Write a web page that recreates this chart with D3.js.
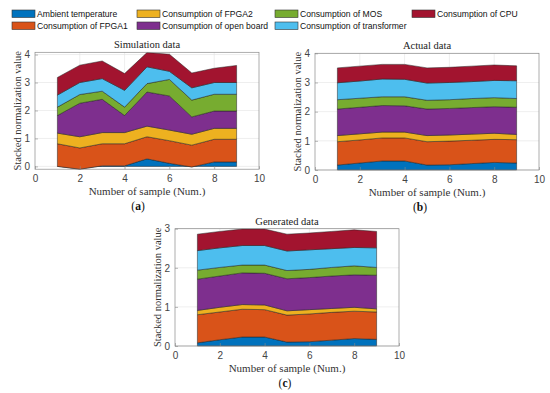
<!DOCTYPE html>
<html>
<head>
<meta charset="utf-8">
<script src="https://cdn.jsdelivr.net/npm/d3@7"></script>
<style>
  body { margin: 0; background: #fff; }
  svg { display: block; }
</style>
</head>
<body>
<svg id="chart" width="550" height="393"></svg>
<script>
// samples on the x axis
var samples = [1, 2, 3, 4, 5, 6, 7, 8, 9];

var seriesNames = [
  "Ambient temperature", "Consumption of FPGA1", "Consumption of FPGA2",
  "Consumption of open board", "Consumption of MOS", "Consumption of transformer",
  "Consumption of CPU"
];

// one row per series, same order as seriesNames
var simulationData = [
  [0.00, -0.10, 0.02, 0.02, 0.27, 0.11, -0.02, 0.16, 0.16],
  [0.81, 0.76, 0.79, 0.79, 0.79, 0.81, 0.78, 0.81, 0.81],
  [0.38, 0.40, 0.40, 0.40, 0.38, 0.38, 0.39, 0.39, 0.39],
  [0.63, 1.20, 1.19, 0.61, 1.22, 1.22, 0.62, 0.62, 0.62],
  [0.30, 0.31, 0.29, 0.30, 0.30, 0.59, 0.60, 0.60, 0.60],
  [0.43, 0.43, 0.45, 0.60, 0.60, 0.29, 0.44, 0.42, 0.42],
  [0.63, 0.62, 0.63, 0.60, 0.51, 0.61, 0.53, 0.51, 0.61]
];

var actualData = [
  [0.17, 0.24, 0.31, 0.31, 0.17, 0.18, 0.22, 0.26, 0.24],
  [0.80, 0.79, 0.79, 0.79, 0.80, 0.81, 0.80, 0.79, 0.80],
  [0.21, 0.21, 0.20, 0.20, 0.21, 0.21, 0.21, 0.21, 0.18],
  [0.91, 0.91, 0.91, 0.90, 0.91, 0.91, 0.91, 0.91, 0.93],
  [0.32, 0.31, 0.30, 0.31, 0.30, 0.30, 0.31, 0.31, 0.30],
  [0.58, 0.59, 0.61, 0.60, 0.59, 0.59, 0.58, 0.59, 0.61],
  [0.51, 0.51, 0.50, 0.51, 0.52, 0.52, 0.53, 0.53, 0.51]
];

var generatedData = [
  [0.08, 0.16, 0.23, 0.23, 0.10, 0.11, 0.15, 0.19, 0.17],
  [0.72, 0.71, 0.71, 0.70, 0.69, 0.71, 0.71, 0.70, 0.70],
  [0.11, 0.12, 0.12, 0.12, 0.11, 0.11, 0.10, 0.10, 0.08],
  [0.80, 0.80, 0.81, 0.81, 0.82, 0.82, 0.83, 0.83, 0.86],
  [0.23, 0.22, 0.20, 0.21, 0.21, 0.21, 0.22, 0.23, 0.20],
  [0.50, 0.50, 0.50, 0.50, 0.50, 0.50, 0.48, 0.47, 0.50],
  [0.42, 0.42, 0.42, 0.42, 0.43, 0.43, 0.44, 0.45, 0.42]
];

var xTicks = [0, 2, 4, 6, 8, 10];
var yTicks4 = [0, 1, 2, 3, 4];
var yTicks3 = [0, 1, 2, 3];

var colors = ["#0072BD", "#D95319", "#EDB120", "#7E2F8E", "#77AC30", "#4DBEEE", "#A2142F"];

var serif = "'Liberation Serif', 'Times New Roman', serif";
var sans = "'Liberation Sans', Arial, sans-serif";

var svg = d3.select("#chart");

// ---- legend (4 columns, 2 rows) ----
var legCols = [12, 137, 275, 412];
var legRows = [10, 22];
seriesNames.forEach(function(name, i) {
  var col = i < 6 ? Math.floor(i / 2) : 3;
  var row = i < 6 ? i % 2 : 0;
  var g = svg.append("g")
    .attr("transform", "translate(" + legCols[col] + "," + legRows[row] + ")");
  g.append("rect")
    .attr("width", 23).attr("height", 7.5)
    .attr("fill", colors[i])
    .attr("stroke", "#333").attr("stroke-width", 0.6);
  g.append("text")
    .attr("x", 25).attr("y", 7)
    .attr("font-family", sans).attr("font-size", 8.6)
    .attr("fill", "#111")
    .text(name);
});

// ---- panels ----
var panels = [
  { data: simulationData, title: "Simulation data", tag: "a", yDomain: [-0.1, 4.08], yTicks: yTicks4,
    left: 35, right: 259, top: 52.3, bottom: 169.2, tagX: 138, ylabX: 17 },
  { data: actualData, title: "Actual data", tag: "b", yDomain: [0, 4], yTicks: yTicks4,
    left: 315, right: 539, top: 53.3, bottom: 170, tagX: 420, ylabX: 297 },
  { data: generatedData, title: "Generated data", tag: "c", yDomain: [0, 3], yTicks: yTicks3,
    left: 175, right: 399, top: 228.7, bottom: 346, tagX: 285, ylabX: 157 }
];

panels.forEach(function(p) {
  var x = d3.scaleLinear().domain([0, 10]).range([p.left, p.right]);
  var y = d3.scaleLinear().domain(p.yDomain).range([p.bottom, p.top]);

  var g = svg.append("g");

  // grid
  g.selectAll(".gx").data(xTicks.slice(1, -1)).enter().append("line")
    .attr("x1", function(d) { return x(d); }).attr("x2", function(d) { return x(d); })
    .attr("y1", p.top).attr("y2", p.bottom)
    .attr("stroke", "#e3e3e3").attr("stroke-width", 0.6);
  g.selectAll(".gy").data(p.yTicks).enter().append("line")
    .attr("x1", p.left).attr("x2", p.right)
    .attr("y1", function(d) { return y(d); }).attr("y2", function(d) { return y(d); })
    .attr("stroke", "#e3e3e3").attr("stroke-width", 0.6);

  // stacked areas
  var rows = samples.map(function(s, j) {
    var r = { x: s };
    seriesNames.forEach(function(n, i) { r[n] = p.data[i][j]; });
    return r;
  });
  var stacked = d3.stack().keys(seriesNames)(rows);
  var area = d3.area()
    .x(function(d) { return x(d.data.x); })
    .y0(function(d) { return y(d[0]); })
    .y1(function(d) { return y(d[1]); });

  g.selectAll(".layer").data(stacked).enter().append("path")
    .attr("d", area)
    .attr("fill", function(d, i) { return colors[i]; })
    .attr("stroke", "#222").attr("stroke-width", 0.5)
    .attr("stroke-linejoin", "round");

  // box
  g.append("rect")
    .attr("x", p.left).attr("y", p.top)
    .attr("width", p.right - p.left).attr("height", p.bottom - p.top)
    .attr("fill", "none").attr("stroke", "#8a8a8a").attr("stroke-width", 0.7);

  // axes (ticks inside like MATLAB)
  var xAxis = d3.axisBottom(x).tickValues(xTicks).tickFormat(d3.format("d"))
    .tickSizeInner(-3).tickSizeOuter(0).tickPadding(6);
  var yAxis = d3.axisLeft(y).tickValues(p.yTicks).tickFormat(d3.format("d"))
    .tickSizeInner(-3).tickSizeOuter(0).tickPadding(5);

  var gx = g.append("g").attr("transform", "translate(0," + p.bottom + ")").call(xAxis);
  var gy = g.append("g").attr("transform", "translate(" + p.left + ",0)").call(yAxis);
  [gx, gy].forEach(function(a) {
    a.select(".domain").remove();
    a.selectAll(".tick line").attr("stroke", "#8a8a8a").attr("stroke-width", 0.6);
    a.selectAll(".tick text").attr("font-family", sans).attr("font-size", 10).attr("fill", "#444");
  });

  // title
  svg.append("text")
    .attr("x", (p.left + p.right) / 2).attr("y", p.top - 4)
    .attr("text-anchor", "middle")
    .attr("font-family", serif).attr("font-size", 10.5).attr("fill", "#222")
    .text(p.title);

  // x label
  svg.append("text")
    .attr("x", (p.left + p.right) / 2).attr("y", p.bottom + 26)
    .attr("text-anchor", "middle")
    .attr("font-family", serif).attr("font-size", 11).attr("fill", "#333")
    .text("Number of sample (Num.)");

  // y label
  svg.append("text")
    .attr("transform", "translate(" + (p.ylabX + 4) + "," + ((p.top + p.bottom) / 2) + ") rotate(-90)")
    .attr("text-anchor", "middle")
    .attr("font-family", serif).attr("font-size", 10.5).attr("fill", "#333")
    .text("Stacked normalization value");

  // subfigure tag
  var t = svg.append("text")
    .attr("x", p.tagX).attr("y", p.bottom + 41)
    .attr("text-anchor", "middle")
    .attr("font-family", serif).attr("font-size", 11.5).attr("fill", "#111");
  t.append("tspan").text("(");
  t.append("tspan").attr("font-weight", "bold").text(p.tag);
  t.append("tspan").text(")");
});
</script>
</body>
</html>
